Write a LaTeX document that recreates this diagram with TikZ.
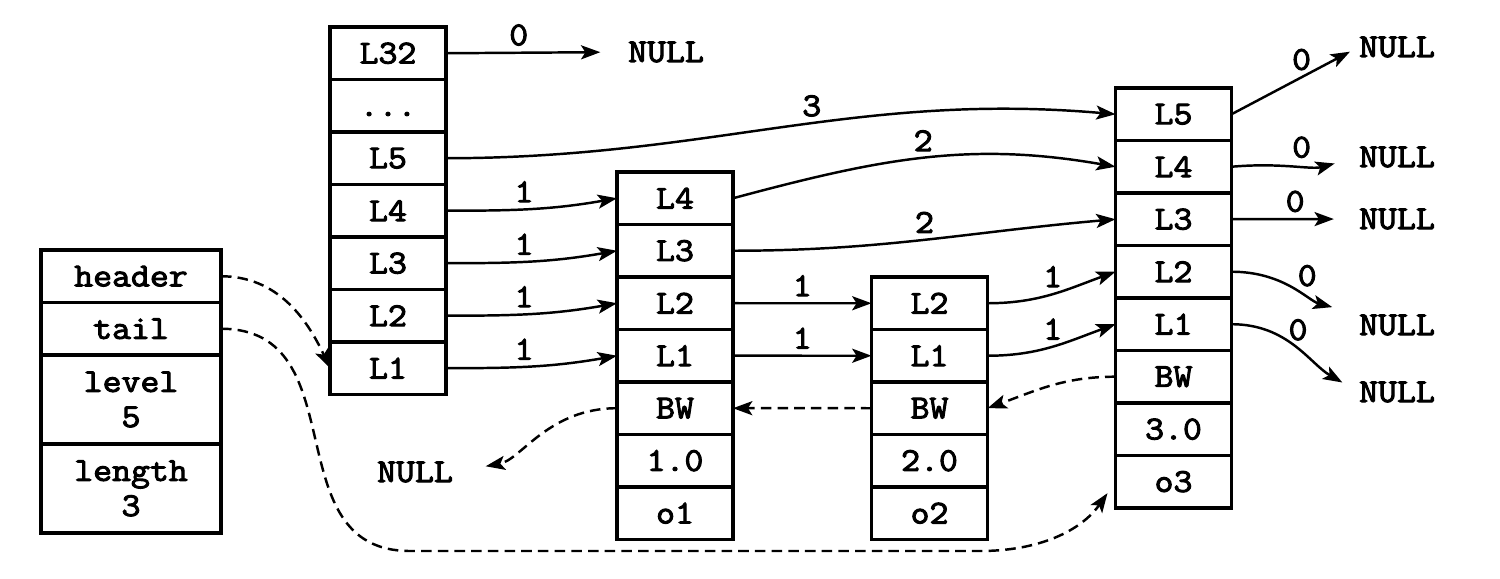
\documentclass[tikz,border=0pt]{standalone}
\usepackage{fontspec}
\newfontfamily\cellfont{Latin Modern Mono}[FakeStretch=1.1,FakeBold=3]
\newcommand{\skfont}{\cellfont\fontsize{19}{20}\selectfont}
\usetikzlibrary{positioning,arrows.meta}
\tikzset{
  cell/.style={draw,line width=2pt,minimum width=2.32cm,minimum height=1.05cm,
    inner sep=0pt,outer sep=0pt,font=\skfont},
  lcell/.style={cell,minimum width=3.6cm,align=center},
  nil/.style={inner sep=0pt,font=\skfont},
  ptr/.style={-{Stealth[length=11pt,width=8pt,inset=2.5pt]},line width=1.4pt},
  back/.style={ptr,dash pattern=on 6pt off 3.5pt},
  span/.style={font=\skfont,above}
}

\begin{document}
\begin{tikzpicture}[x=0.02cm,y=0.02cm]
    \useasboundingbox (0,0) rectangle (1500,-578);
    % list
    \node[lcell,anchor=north] (header) at (131,-250) {header};
    \node[lcell,below=0pt of header] (tail) {tail};
    \node[lcell,below=0pt of tail,minimum height=1.78cm] (level) {level\\5};
    \node[lcell,below=0pt of level,minimum height=1.78cm] (length) {length\\3};
    % header node
    \node[cell,anchor=north] (h32) at (388,-27) {L32};
    \node[cell,below=0pt of h32] (hdots) {\vphantom{L}...};
    \node[cell,below=0pt of hdots] (h5) {L5};
    \node[cell,below=0pt of h5] (h4) {L4};
    \node[cell,below=0pt of h4] (h3) {L3};
    \node[cell,below=0pt of h3] (h2) {L2};
    \node[cell,below=0pt of h2] (h1) {L1};
    % o1
    \node[cell,anchor=north] (a4) at (675,-172) {L4};
    \node[cell,below=0pt of a4] (a3) {L3};
    \node[cell,below=0pt of a3] (a2) {L2};
    \node[cell,below=0pt of a2] (a1) {L1};
    \node[cell,below=0pt of a1] (abw) {BW};
    \node[cell,below=0pt of abw] (ascore) {1.0};
    \node[cell,below=0pt of ascore] (aobj) {o1};
    % o2
    \node[cell,anchor=north] (b2) at (929.5,-277) {L2};
    \node[cell,below=0pt of b2] (b1) {L1};
    \node[cell,below=0pt of b1] (bbw) {BW};
    \node[cell,below=0pt of bbw] (bscore) {2.0};
    \node[cell,below=0pt of bscore] (bobj) {o2};
    % o3
    \node[cell,anchor=north] (c5) at (1173.5,-88) {L5};
    \node[cell,below=0pt of c5] (c4) {L4};
    \node[cell,below=0pt of c4] (c3) {L3};
    \node[cell,below=0pt of c3] (c2) {L2};
    \node[cell,below=0pt of c2] (c1) {L1};
    \node[cell,below=0pt of c1] (cbw) {BW};
    \node[cell,below=0pt of cbw] (cscore) {3.0};
    \node[cell,below=0pt of cscore] (cobj) {o3};
    % NULLs
    \node[nil] (nil32) at (666,-52) {NULL};
    \node[nil] (nilc5) at (1397,-47) {NULL};
    \node[nil] (nilc4) at (1397,-157) {NULL};
    \node[nil] (nilc3) at (1397,-219) {NULL};
    \node[nil] (nilc2) at (1397,-325) {NULL};
    \node[nil] (nilc1) at (1397,-392) {NULL};
    \node[nil] (nilbw) at (415,-472) {NULL};
    \coordinate (tailbend) at (410,-551);
    \coordinate (tailrun) at (980,-551);

    % forward pointers
    \draw[ptr,shorten >=0.55cm] (h32.east) -- node[span,pos=.4]{0} (nil32.west);
    \draw[ptr] (h5.east) to[out=0,in=175] node[span,pos=.55]{3} (c5.west);
    \draw[ptr] (h4.east) to[out=0,in=190] node[span,pos=.45]{1} (a4.west);
    \draw[ptr] (h3.east) to[out=0,in=190] node[span,pos=.45]{1} (a3.west);
    \draw[ptr] (h2.east) to[out=0,in=190] node[span,pos=.45]{1} (a2.west);
    \draw[ptr] (h1.east) to[out=0,in=190] node[span,pos=.45]{1} (a1.west);
    \draw[ptr] (a4.east) to[out=15,in=170] node[span]{2} (c4.west);
    \draw[ptr] (a3.east) to[out=0,in=185] node[span]{2} (c3.west);
    \draw[ptr] (a2.east) -- node[span]{1} (b2.west);
    \draw[ptr] (a1.east) -- node[span]{1} (b1.west);
    \draw[ptr] (b2.east) to[out=0,in=200] node[span]{1} (c2.west);
    \draw[ptr] (b1.east) to[out=0,in=200] node[span]{1} (c1.west);
    \draw[ptr,shorten >=0.2cm] (c5.east) -- node[span,pos=.55]{0} (nilc5.west);
    \draw[ptr,shorten >=0.5cm] (c4.east) to[out=5,in=195] node[span,pos=.55]{0} (nilc4.west);
    \draw[ptr,shorten >=0.5cm] (c3.east) -- node[span]{0} (nilc3.west);
    \draw[ptr,shorten >=0.55cm] (c2.east) to[out=0,in=165] node[span,pos=.6]{0} (nilc2.north west);
    \draw[ptr,shorten >=0.38cm] (c1.east) to[out=0,in=150] node[span,pos=.5]{0} (nilc1.west);

    % backward and list pointers
    \draw[back] (header.east) to[out=0,in=115] (h1.west);
    \draw[back,shorten >=0.28cm] (tail.east) to[out=0,in=180,looseness=1.2] (tailbend) -- (tailrun) to[out=0,in=235] (cobj.west);
    \draw[back,shorten >=0.66cm] (abw.west) to[out=180,in=10] (nilbw.east);
    \draw[back] (bbw.west) -- (abw.east);
    \draw[back] (cbw.west) to[out=180,in=20] (bbw.east);
\end{tikzpicture}
\end{document}
